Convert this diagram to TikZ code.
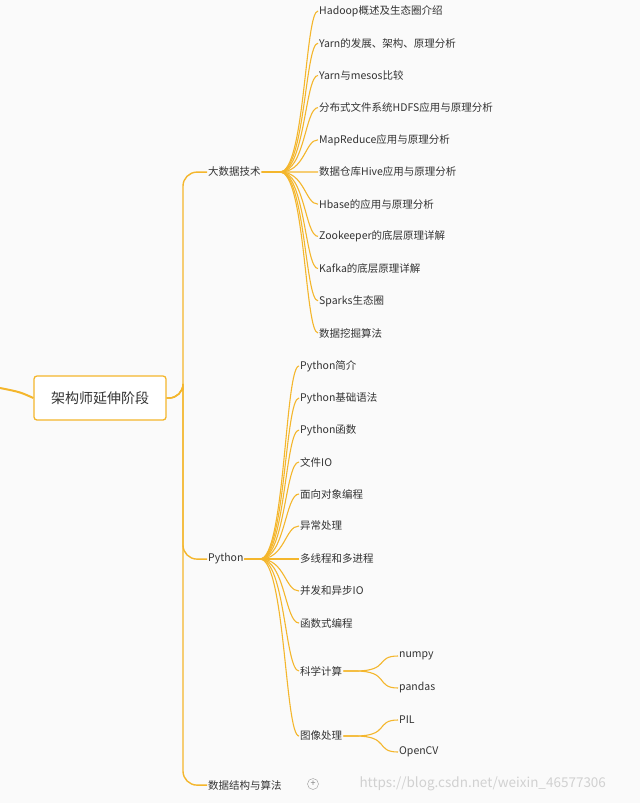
\documentclass[tikz,border=0pt]{standalone}
\usepackage{fontspec}
\setmainfont{Noto Sans CJK SC}
\begin{document}
\begin{tikzpicture}[x=1pt,y=-1pt,
  lnk/.style={draw=lc,line width=1.4pt},
  leaf/.style={anchor=west,inner sep=1pt,font=\fontsize{10.5}{12}\selectfont,text=black!80},
]
\definecolor{lc}{HTML}{F4B62C}
\fill[black!2] (0,0) rectangle (640,803);
\useasboundingbox (0,0) rectangle (640,803);
\node[draw=lc,line width=1.3pt,rounded corners=3pt,fill=white,minimum width=132pt,minimum height=44pt,font=\fontsize{14}{16}\selectfont,text=black!80] (root) at (100,398) {架构师延伸阶段};
\coordinate (in) at (0,388);
\draw[lnk,line width=2pt] (in) .. controls (20,392) .. (root.west);
% level 1
\node[leaf] (bd) at (207,172) {大数据技术};
\node[leaf] (py) at (207,559) {Python};
\node[leaf] (ds) at (207,785) {数据结构与算法};
\node[draw=black!40,circle,inner sep=0pt,minimum size=11pt,font=\fontsize{9}{9}\selectfont,text=black!50] (plus) at (313,784) {+};
\foreach \c in {bd,py,ds}{
  \draw[lnk,rounded corners=14pt] (root.east) -| (183,398) |- ([yshift=-0.1pt]\c.west) ;
}
% big data
\coordinate (bh) at (280,172);
\foreach \t [count=\i] in {Hadoop概述及生态圈介绍,Yarn的发展、架构、原理分析,Yarn与mesos比较,分布式文件系统HDFS应用与原理分析,MapReduce应用与原理分析,数据仓库Hive应用与原理分析,Hbase的应用与原理分析,Zookeeper的底层原理详解,Kafka的底层原理详解,Sparks生态圈,数据挖掘算法}{
  \pgfmathsetmacro\yy{11+32.2*(\i-1)}
  \node[leaf] (b\i) at (318,\yy) {\t};
  \draw[lnk,line width=1.1pt] (bd.east) -- (bh) .. controls (305,172) and (305,\yy) .. (b\i.west);
}
% python
\coordinate (ph) at (260,559);
\foreach \t/\yy [count=\i] in {Python简介/366,Python基础语法/398,Python函数/430,文件IO/462,面向对象编程/494,异常处理/526,多线程和多进程/559,并发和异步IO/591,函数式编程/623,科学计算/671,图像处理/736}{
  \node[leaf] (p\i) at (299,\yy) {\t};
  \draw[lnk,line width=1.1pt] (py.east) -- (ph) .. controls (285,559) and (285,\yy) .. (p\i.west);
}
\foreach \t/\yy/\pa [count=\i] in {numpy/656/p10,pandas/688/p10,PIL/720/p11,OpenCV/752/p11}{
  \node[leaf] (s\i) at (398,\yy) {\t};
  \draw[lnk,line width=1.1pt] (\pa.east) -- ++(12,0) .. controls (390,0|-\pa.east) and (375,\yy) .. (s\i.west);
}
\node[anchor=west,text=black!18,font=\fontsize{13.5}{15}\selectfont] (wm) at (356,784) {https://blog.csdn.net/weixin\_46577306};
\end{tikzpicture}
\end{document}
